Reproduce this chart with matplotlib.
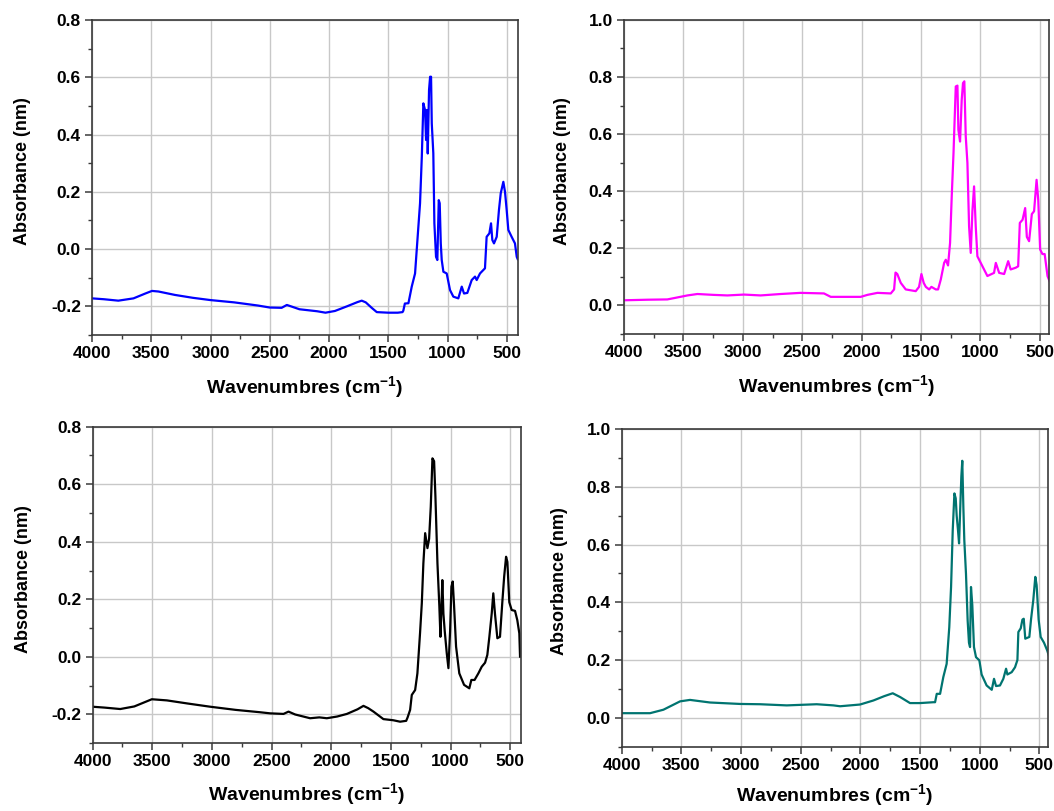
import matplotlib
matplotlib.use("Agg")
import matplotlib.pyplot as plt
from matplotlib.ticker import MultipleLocator, FormatStrFormatter

plt.rcParams['font.family'] = ['Liberation Sans', 'DejaVu Sans']
plt.rcParams['font.weight'] = 'bold'
plt.rcParams['axes.unicode_minus'] = False
plt.rcParams['mathtext.fontset'] = 'custom'
plt.rcParams['mathtext.rm'] = 'Liberation Sans:bold'
plt.rcParams['mathtext.bf'] = 'Liberation Sans:bold'
plt.rcParams['mathtext.default'] = 'bf'

# ---------------- data (wavenumber cm-1, absorbance) ----------------
blue_x = [4000, 3900, 3778, 3650, 3550, 3494, 3440, 3300, 3150, 3000, 2800, 2600, 2500,
          2400, 2356, 2320, 2250, 2100, 2030, 1950, 1850, 1760, 1724, 1690, 1640, 1597,
          1500, 1420, 1380, 1373, 1360, 1330, 1302, 1274, 1260, 1232, 1217, 1204, 1190,
          1181, 1173, 1167, 1156, 1147, 1139, 1133, 1120, 1111, 1097, 1086, 1074, 1066,
          1057, 1049, 1035, 1007, 979, 951, 909, 880, 861, 833, 796, 768, 754, 726, 684,
          670, 647, 633, 622, 608, 585, 566, 551, 529, 515, 501, 487, 459, 431, 416, 408]
blue_y = [-0.172, -0.175, -0.180, -0.172, -0.155, -0.146, -0.148, -0.160, -0.170, -0.178,
          -0.186, -0.197, -0.204, -0.205, -0.195, -0.200, -0.210, -0.217, -0.222, -0.216,
          -0.200, -0.185, -0.180, -0.186, -0.205, -0.220, -0.222, -0.222, -0.220, -0.215,
          -0.190, -0.189, -0.131, -0.085, -0.003, 0.160, 0.323, 0.509, 0.486, 0.381, 0.486,
          0.334, 0.556, 0.602, 0.602, 0.439, 0.335, 0.090, -0.027, -0.038, 0.171, 0.160,
          0.020, -0.038, -0.079, -0.085, -0.143, -0.166, -0.172, -0.131, -0.155, -0.153,
          -0.108, -0.096, -0.108, -0.085, -0.067, 0.043, 0.055, 0.090, 0.032, 0.020, 0.043,
          0.137, 0.195, 0.235, 0.200, 0.137, 0.067, 0.043, 0.020, -0.027, -0.035]

magenta_x = [4000, 3800, 3635, 3550, 3466, 3382, 3250, 3130, 2990, 2850, 2681, 2513, 2317,
             2260, 2100, 2008, 1951, 1867, 1755, 1727, 1715, 1700, 1671, 1629, 1545, 1517,
             1497, 1478, 1460, 1432, 1413, 1376, 1357, 1334, 1306, 1292, 1273, 1256, 1242,
             1227, 1208, 1194, 1186, 1172, 1158, 1147, 1136, 1124, 1110, 1096, 1082, 1068,
             1054, 1040, 1026, 998, 970, 942, 886, 871, 843, 801, 767, 746, 704, 683, 669,
             646, 624, 610, 591, 568, 549, 528, 514, 498, 479, 460, 436, 419]
magenta_y = [0.018, 0.020, 0.021, 0.028, 0.035, 0.040, 0.037, 0.035, 0.038, 0.035, 0.040,
             0.044, 0.042, 0.030, 0.030, 0.030, 0.037, 0.044, 0.042, 0.056, 0.115, 0.110,
             0.079, 0.056, 0.050, 0.065, 0.110, 0.079, 0.065, 0.056, 0.065, 0.056, 0.056,
             0.091, 0.149, 0.160, 0.140, 0.219, 0.382, 0.534, 0.767, 0.770, 0.615, 0.574,
             0.720, 0.779, 0.785, 0.592, 0.499, 0.277, 0.184, 0.330, 0.417, 0.277, 0.172,
             0.149, 0.126, 0.103, 0.114, 0.149, 0.114, 0.110, 0.155, 0.126, 0.132, 0.137,
             0.289, 0.300, 0.341, 0.240, 0.225, 0.320, 0.330, 0.440, 0.370, 0.196, 0.180,
             0.180, 0.103, 0.085]

black_x = [4000, 3900, 3768, 3650, 3550, 3503, 3377, 3200, 3014, 2800, 2600, 2512, 2400,
           2358, 2302, 2177, 2100, 2037, 1950, 1869, 1780, 1730, 1690, 1646, 1563, 1480,
           1423, 1372, 1360, 1339, 1325, 1297, 1278, 1256, 1241, 1228, 1213, 1194, 1180,
           1166, 1152, 1138, 1127, 1110, 1094, 1085, 1069, 1060, 1049, 1032, 1018, 1004,
           993, 982, 971, 954, 927, 887, 843, 826, 799, 767, 739, 711, 692, 675, 655, 642,
           628, 608, 586, 567, 551, 535, 524, 508, 488, 460, 441, 424, 418]
black_y = [-0.173, -0.176, -0.181, -0.172, -0.155, -0.147, -0.151, -0.162, -0.173, -0.184,
           -0.192, -0.196, -0.198, -0.190, -0.200, -0.213, -0.210, -0.213, -0.207, -0.198,
           -0.182, -0.170, -0.178, -0.190, -0.216, -0.220, -0.225, -0.222, -0.210, -0.184,
           -0.132, -0.115, -0.057, 0.082, 0.187, 0.325, 0.430, 0.378, 0.410, 0.522, 0.690,
           0.680, 0.557, 0.325, 0.175, 0.070, 0.267, 0.150, 0.090, 0.013, -0.039, 0.090,
           0.244, 0.262, 0.180, 0.036, -0.057, -0.097, -0.109, -0.080, -0.080, -0.057,
           -0.034, -0.020, 0.007, 0.070, 0.152, 0.221, 0.150, 0.065, 0.070, 0.187, 0.279,
           0.348, 0.330, 0.190, 0.163, 0.160, 0.128, 0.082, 0.001]

teal_x = [4000, 3763, 3651, 3511, 3428, 3260, 3009, 2841, 2617, 2366, 2226, 2170, 2003,
          1891, 1800, 1729, 1667, 1584, 1500, 1388, 1374, 1360, 1332, 1305, 1277, 1255,
          1240, 1226, 1212, 1201, 1193, 1182, 1173, 1162, 1154, 1146, 1137, 1129, 1115,
          1101, 1090, 1081, 1073, 1062, 1048, 1031, 1003, 984, 942, 899, 880, 863, 830,
          802, 779, 768, 732, 704, 684, 676, 656, 642, 631, 618, 584, 570, 551, 534, 523,
          506, 489, 461, 434, 417]
teal_y = [0.016, 0.016, 0.028, 0.057, 0.062, 0.053, 0.048, 0.047, 0.043, 0.047, 0.043,
          0.040, 0.046, 0.060, 0.075, 0.085, 0.072, 0.051, 0.051, 0.054, 0.054, 0.083,
          0.083, 0.141, 0.187, 0.314, 0.453, 0.650, 0.777, 0.760, 0.700, 0.650, 0.604,
          0.740, 0.835, 0.890, 0.730, 0.615, 0.499, 0.337, 0.260, 0.245, 0.453, 0.390,
          0.245, 0.210, 0.199, 0.150, 0.112, 0.097, 0.135, 0.110, 0.112, 0.135, 0.170,
          0.150, 0.158, 0.175, 0.200, 0.297, 0.310, 0.340, 0.343, 0.274, 0.280, 0.340,
          0.407, 0.488, 0.460, 0.340, 0.280, 0.260, 0.233, 0.210]

x_ticks = [4000, 3500, 3000, 2500, 2000, 1500, 1000, 500]

panels = [
    # (x, y, colour, ylim, xright, rect, ylabel x, xlabel y)
    (blue_x, blue_y, '#0000ff', (-0.3, 0.8), 405, [0.0873, 0.5869, 0.4042, 0.3884], -0.143, -0.125),
    (magenta_x, magenta_y, '#ff00ff', (-0.1, 1.0), 424, [0.5920, 0.5882, 0.4032, 0.3872], -0.125, -0.125),
    (black_x, black_y, '#000000', (-0.3, 0.8), 410, [0.0878, 0.0835, 0.4065, 0.3904], -0.142, -0.118),
    (teal_x, teal_y, '#007470', (-0.1, 1.0), 425, [0.5899, 0.0793, 0.4047, 0.3917], -0.125, -0.112),
]

fig = plt.figure(figsize=(10.54, 8.11), dpi=100)
for xs, ys, col, ylim, xr, rect, ylx, xly in panels:
    ax = fig.add_axes(rect)
    ax.plot(xs, ys, color=col, lw=1.6)
    ax.set_xlim(4000, xr)
    ax.set_ylim(*ylim)
    ax.set_xticks(x_ticks)
    ax.xaxis.set_minor_locator(MultipleLocator(250))
    ax.yaxis.set_major_locator(MultipleLocator(0.2))
    ax.yaxis.set_minor_locator(MultipleLocator(0.1))
    ax.yaxis.set_major_formatter(FormatStrFormatter('%.1f'))
    ax.grid(True, which='major', color='#c8c8c8', lw=1.0)
    ax.set_axisbelow(True)
    for s in ax.spines.values():
        s.set_color('#3a3a3a')
        s.set_linewidth(1.2)
    ax.tick_params(which='major', direction='out', length=5, width=1.1,
                   labelsize=12.5, color='#3a3a3a', pad=3)
    ax.tick_params(which='minor', direction='out', length=3, width=1.0, color='#3a3a3a')
    ax.tick_params(axis='x', which='both', top=False)
    ax.tick_params(axis='y', which='both', right=False)
    for lbl in ax.get_xticklabels() + ax.get_yticklabels():
        lbl.set_fontweight('bold')
    ax.set_xlabel('Wavenumbres (cm$^{-1}$)', fontsize=14, fontweight='bold', va='top')
    ax.xaxis.set_label_coords(0.5, xly)
    ax.set_ylabel('Absorbance (nm)', fontsize=13, fontweight='bold')
    ax.yaxis.set_label_coords(ylx, 0.52)

fig.savefig('out.png', dpi=100)
